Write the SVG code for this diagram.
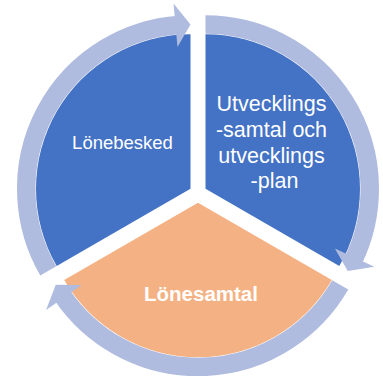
<svg xmlns="http://www.w3.org/2000/svg" width="383" height="376" viewBox="0 0 383 376">
  <style>
    .blue { fill: #4472C4; }
    .orange { fill: #F4B183; }
    .ring { fill: none; stroke: #B0BCDF; stroke-width: 18.5; stroke-linecap: butt; }
    .head { fill: #B0BCDF; }
    .lbl { font-family: "Liberation Sans", Arial, sans-serif; fill: #FFFFFF; text-anchor: middle; }
  </style>
  <rect width="383" height="376" fill="#FFFFFF"/>
  <g id="node-lonebesked">
    <path class="blue" d="M190.5,188.8 L56.70,266.05 A154.5,154.5 0 0 1 190.5,34.3 Z"/>
    <text class="lbl" x="122.5" y="149" font-size="18.5">Lönebesked</text>
  </g>
  <g id="node-utvecklingssamtal">
    <path class="blue" d="M205.5,188.8 L205.5,34.3 A154.5,154.5 0 0 1 339.30,266.05 Z"/>
    <text class="lbl" font-size="21.5">
      <tspan x="274.5" y="110.5">Utvecklings</tspan>
      <tspan x="274.5" y="136.7">-samtal och</tspan>
      <tspan x="274.5" y="162.7">utvecklings</tspan>
      <tspan x="274.5" y="188.3">-plan</tspan>
    </text>
  </g>
  <g id="node-lonesamtal">
    <path class="orange" d="M198,202.7 L331.80,279.95 A154.5,154.5 0 0 1 64.20,279.95 Z"/>
    <text class="lbl" x="201" y="301" font-size="20.5" font-weight="bold">Lönesamtal</text>
  </g>
  <g id="connectors">
    <path class="ring" d="M48.26,270.93 A164.25,164.25 0 0 1 179.04,24.95"/>
    <polygon class="head" points="190.5,24.55 173.52,3.58 177.49,46.9"/>
    <path class="ring" d="M205.5,24.55 A164.25,164.25 0 0 1 353.13,260.8"/>
    <polygon class="head" points="347.74,270.93 374.4,266.7 334.9,248.48"/>
    <path class="ring" d="M340.24,284.83 A164.25,164.25 0 0 1 61.83,294.55"/>
    <polygon class="head" points="55.76,284.83 46.08,310.01 81.61,284.92"/>
  </g>
</svg>
